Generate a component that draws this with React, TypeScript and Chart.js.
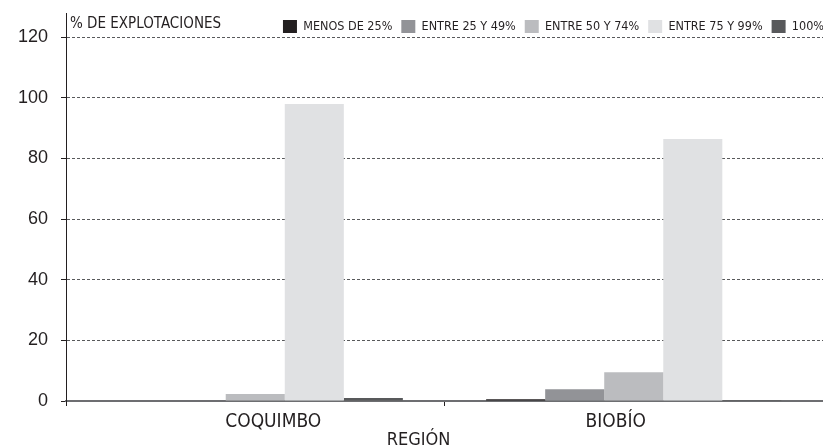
import React, { useEffect, useRef } from "react";
import { Chart, registerables } from "chart.js";

Chart.register(...registerables);

const categories = ["COQUIMBO", "BIOBÍO"];
const seriesNames = ["MENOS DE 25%", "ENTRE 25 Y 49%", "ENTRE 50 Y 74%", "ENTRE 75 Y 99%", "100%"];
const menos25 = [0, 0.6];
const entre25y49 = [0, 3.9];
const entre50y74 = [2.3, 9.5];
const entre75y99 = [98, 86.4];
const cien = [1.0, 0.3];
const seriesColors = ["#231f20", "#929397", "#bbbcbf", "#e0e1e3", "#58595b"];
const yTitle = "% DE EXPLOTACIONES";
const xTitle = "REGIÓN";

const NARROW = '"Liberation Sans Narrow", "DejaVu Sans Condensed", sans-serif';
const SANS = '"Liberation Sans", Arial, sans-serif';
const TEXT = "#231f20";

export default function App() {
  const ref = useRef<HTMLCanvasElement | null>(null);

  useEffect(() => {
    if (!ref.current) return;
    const values = [menos25, entre25y49, entre50y74, entre75y99, cien];

    const shiftLegend = {
      id: "shiftLegend",
      afterLayout(chart: any) {
        const lg = chart.legend;
        if (!lg) return;
        lg.left += 10;
        lg.right += 10;
        lg.top -= 1;
        lg.bottom = lg.top + 30;
        lg.height = 30;
      },
    };

    const textPlugin = {
      id: "textPlugin",
      afterDraw(chart: any) {
        const { ctx, chartArea } = chart;
        const xs = chart.scales.x;
        const mid = (chartArea.left + chartArea.right) / 2;
        ctx.save();
        ctx.fillStyle = TEXT;
        ctx.textBaseline = "alphabetic";
        ctx.font = `15px ${NARROW}`;
        ctx.textAlign = "left";
        ctx.fillText(yTitle, chartArea.left + 4, chartArea.top + 15);
        ctx.font = `19px ${NARROW}`;
        ctx.textAlign = "center";
        (chart.data.labels as string[]).forEach((lab, i) => {
          const px = xs.getPixelForValue(i);
          const shift = px < mid ? 18 : -18;
          ctx.fillText(lab, px + shift, chartArea.bottom + 26);
        });
        ctx.font = `18px ${NARROW}`;
        ctx.fillText(xTitle, mid - 26, chartArea.bottom + 44);
        ctx.restore();
      },
    };

    const chart = new Chart(ref.current, {
      type: "bar",
      data: {
        labels: categories,
        datasets: seriesNames.map((name, i) => ({
          label: name,
          data: values[i],
          backgroundColor: seriesColors[i],
          borderWidth: 0,
          categoryPercentage: 0.78,
          barPercentage: 1,
        })),
      },
      options: {
        responsive: false,
        animation: false,
        layout: { padding: { left: 0, top: 12, right: 0, bottom: 0 } },
        plugins: {
          tooltip: { enabled: false },
          title: { display: false },
          legend: {
            display: true,
            position: "top",
            align: "end",
            maxHeight: 1,
            labels: {
              boxWidth: 14,
              boxHeight: 13,
              padding: 9,
              color: TEXT,
              font: { family: NARROW, size: 12.5 },
            },
          },
        },
        scales: {
          x: {
            offset: true,
            afterFit(s: any) {
              s.height = 46;
              s.paddingLeft = 0;
              s.paddingRight = 0;
            },
            grid: {
              display: true,
              offset: true,
              drawOnChartArea: false,
              drawTicks: true,
              tickLength: 5,
              tickColor: TEXT,
              tickWidth: 1,
            },
            border: { display: true, color: "#6d6e71", width: 2 },
            ticks: { display: false },
            title: { display: false },
          },
          y: {
            min: 0,
            max: 128,
            afterFit(s: any) {
              s.width = 66;
              s.paddingTop = 0;
              s.paddingBottom = 0;
            },
            grid: {
              display: true,
              color: "#58595b",
              lineWidth: 1,
              drawTicks: true,
              tickLength: 5,
              tickColor: TEXT,
              tickWidth: 1,
              tickBorderDash: [],
              borderDash: [3, 2],
            } as any,
            border: { display: true, color: TEXT, width: 1, dash: [3, 2] } as any,
            ticks: {
              stepSize: 20,
              includeBounds: false,
              color: TEXT,
              padding: 13,
              font: { family: SANS, size: 18 },
            },
          },
        },
      },
      plugins: [shiftLegend, textPlugin],
    } as any);

    return () => chart.destroy();
  }, []);

  return (
    <canvas
      ref={ref}
      width={823}
      height={447}
      style={{ position: "fixed", left: 0, top: 0, width: 823, height: 447 }}
    />
  );
}
